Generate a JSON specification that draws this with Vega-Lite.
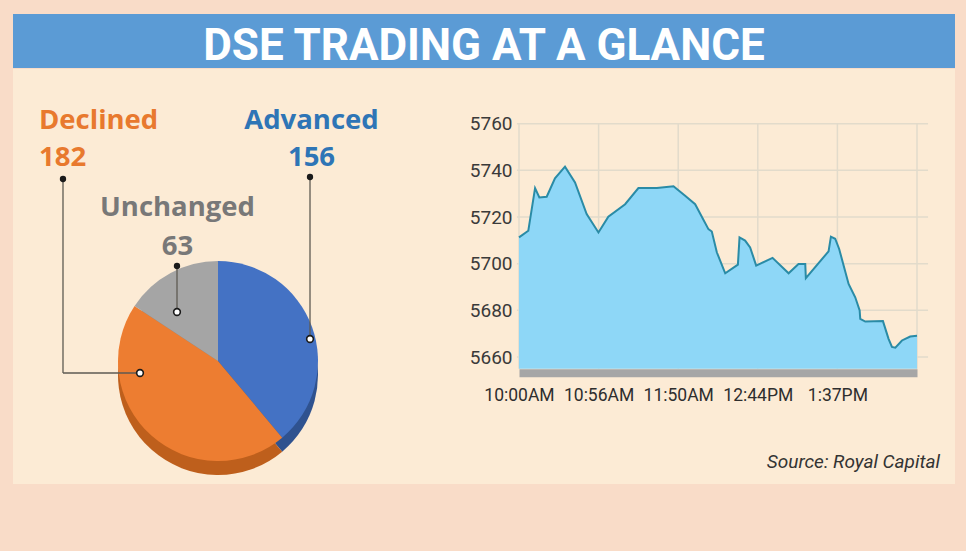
{
  "$schema": "https://vega.github.io/schema/vega-lite/v6.json",
  "background": "#F9DCC8",
  "padding": {"left": 13, "top": 14, "right": 11, "bottom": 69},
  "config": {"view": {"stroke": null}, "concat": {"spacing": 0}},
  "datasets": {
    "index": [
      {"t": 0, "v": 5711.3}, {"t": 6.3, "v": 5714.1}, {"t": 10.9, "v": 5732.4}, {"t": 13.8, "v": 5728.4},
      {"t": 18.8, "v": 5728.7}, {"t": 24.4, "v": 5736.6}, {"t": 31.2, "v": 5741.6}, {"t": 38.0, "v": 5734.8},
      {"t": 45.9, "v": 5721.3}, {"t": 53.9, "v": 5713.4}, {"t": 60.6, "v": 5720.1}, {"t": 72.0, "v": 5725.5},
      {"t": 81.0, "v": 5732.4}, {"t": 93.5, "v": 5732.4}, {"t": 104.8, "v": 5733.2}, {"t": 112.7, "v": 5729.1},
      {"t": 119.5, "v": 5725.5}, {"t": 128.5, "v": 5714.8}, {"t": 130.8, "v": 5713.8}, {"t": 134.2, "v": 5704.9},
      {"t": 139.9, "v": 5695.9}, {"t": 148.5, "v": 5699.6}, {"t": 149.6, "v": 5711.3}, {"t": 153.4, "v": 5709.9},
      {"t": 156.8, "v": 5707.0}, {"t": 160.9, "v": 5699.2}, {"t": 172.0, "v": 5702.5}, {"t": 182.9, "v": 5695.9},
      {"t": 189.6, "v": 5699.9}, {"t": 194.2, "v": 5699.9}, {"t": 194.6, "v": 5693.8}, {"t": 210.0, "v": 5705.3},
      {"t": 211.6, "v": 5711.6}, {"t": 214.5, "v": 5710.7}, {"t": 217.2, "v": 5706.3}, {"t": 223.6, "v": 5691.3},
      {"t": 228.1, "v": 5685.6}, {"t": 231.1, "v": 5680.0}, {"t": 231.5, "v": 5676.4}, {"t": 234.9, "v": 5675.2},
      {"t": 246.9, "v": 5675.4}, {"t": 250.7, "v": 5667.8}, {"t": 253.0, "v": 5664.3}, {"t": 255.3, "v": 5664.0},
      {"t": 259.8, "v": 5667.1}, {"t": 265.4, "v": 5668.8}, {"t": 270, "v": 5669.1}
    ],
    "breadth": [
      {"status": "Advanced", "count": 156},
      {"status": "Declined", "count": 182},
      {"status": "Unchanged", "count": 63}
    ],
    "ygrid": [{"v": 5660}, {"v": 5680}, {"v": 5700}, {"v": 5720}, {"v": 5740}, {"v": 5760}],
    "xgrid": [{"t": 0}, {"t": 54}, {"t": 108}, {"t": 162}, {"t": 216}, {"t": 270}],
    "meta": [{"title": "DSE TRADING AT A GLANCE", "source": "Source: Royal Capital"}]
  },
  "vconcat": [
    {
      "width": 942,
      "height": 54,
      "view": {"fill": "#5B9BD5", "stroke": null},
      "data": {"name": "meta"},
      "mark": {"type": "text", "font": "Roboto", "fontWeight": "bold", "fontSize": 44, "color": "#FFFFFF", "align": "center", "baseline": "middle", "dy": 6},
      "encoding": {"text": {"field": "title"}}
    },
    {
      "width": 942,
      "height": 415,
      "view": {"fill": "#FCEBD5", "stroke": null},
      "layer": [
        {
          "data": {"name": "ygrid"},
          "mark": {"type": "rule", "color": "#E2DBCB", "strokeWidth": 1.5},
          "encoding": {
            "y": {
              "field": "v", "type": "quantitative",
              "scale": {"domain": [5655, 5760], "range": [299.7, 54.7], "nice": false, "zero": false},
              "axis": {
                "orient": "left", "offset": -506, "values": [5660, 5680, 5700, 5720, 5740, 5760], "format": "d",
                "domain": false, "ticks": false, "tickSize": 0, "grid": false, "labelPadding": 7,
                "labelFont": "Roboto", "labelFontSize": 19, "labelColor": "#3A3A3A",
                "title": null, "labelFlush": false, "labelOverlap": false, "zindex": 1
              }
            },
            "x": {"datum": -1.4, "type": "quantitative"},
            "x2": {"datum": 277.5}
          }
        },
        {
          "data": {"name": "xgrid"},
          "mark": {"type": "rule", "color": "#E2DBCB", "strokeWidth": 1.5},
          "encoding": {
            "x": {
              "field": "t", "type": "quantitative",
              "scale": {"domain": [0, 270], "range": [506, 904], "nice": false, "zero": false},
              "axis": {
                "orient": "bottom", "offset": -111.3, "values": [0, 54, 108, 162, 216, 270],
                "labelExpr": "datum.value == 0 ? '10:00AM' : datum.value == 54 ? '10:56AM' : datum.value == 108 ? '11:50AM' : datum.value == 162 ? '12:44PM' : datum.value == 216 ? '1:37PM' : ''",
                "domain": true, "domainColor": "#A6A6A6", "domainWidth": 8, "domainCap": "butt",
                "ticks": false, "tickSize": 0, "grid": false, "labelPadding": 14,
                "labelFont": "Roboto", "labelFontSize": 17.5, "labelColor": "#2E2E2E",
                "title": null, "labelFlush": false, "labelOverlap": false, "zindex": 1
              }
            },
            "y": {"datum": 5655, "type": "quantitative"},
            "y2": {"datum": 5760}
          }
        },
        {
          "data": {"name": "index"},
          "mark": {"type": "area", "color": "#8ED7F7", "opacity": 1, "line": {"color": "#2A8BA6", "strokeWidth": 2}},
          "encoding": {
            "x": {"field": "t", "type": "quantitative"},
            "y": {"field": "v", "type": "quantitative"},
            "y2": {"datum": 5655}
          }
        },
        {
          "data": {"name": "breadth"},
          "mark": {"type": "arc", "outerRadius": 100},
          "encoding": {
            "theta": {"field": "count", "type": "quantitative"},
            "fill": {"field": "status", "type": "nominal", "scale": {"domain": ["Advanced", "Declined", "Unchanged"], "range": ["#2F528F", "#BE5F1C", "#7F7F7F"]}, "legend": null},
            "x": {"datum": -204.2, "type": "quantitative"},
            "y": {"datum": 5652.3, "type": "quantitative"}
          }
        },
        {
          "data": {"name": "breadth"},
          "mark": {"type": "arc", "outerRadius": 100},
          "encoding": {
            "theta": {"field": "count", "type": "quantitative"},
            "color": {"field": "status", "type": "nominal", "scale": {"domain": ["Advanced", "Declined", "Unchanged"], "range": ["#4472C4", "#ED7D31", "#A5A5A5"]}, "legend": null},
            "x": {"datum": -204.2, "type": "quantitative"},
            "y": {"datum": 5658.3, "type": "quantitative"}
          }
        },
        {
          "data": {"name": "breadth"},
          "transform": [{"filter": "datum.status === 'Declined'"}],
          "mark": {"type": "text", "font": "Open Sans", "fontWeight": "bold", "fontSize": 27.5, "color": "#E8792E", "align": "left", "baseline": "middle"},
          "encoding": {"text": {"field": "status"}, "x": {"datum": -325.63, "type": "quantitative"}, "y": {"datum": 5761.29, "type": "quantitative"}}
        },
        {
          "data": {"name": "breadth"},
          "transform": [{"filter": "datum.status === 'Declined'"}],
          "mark": {"type": "text", "font": "Open Sans", "fontWeight": "bold", "fontSize": 27.5, "color": "#E8792E", "align": "left", "baseline": "middle"},
          "encoding": {"text": {"field": "count", "type": "quantitative"}, "x": {"datum": -325.63, "type": "quantitative"}, "y": {"datum": 5745.3, "type": "quantitative"}}
        },
        {
          "data": {"name": "breadth"},
          "transform": [{"filter": "datum.status === 'Advanced'"}],
          "mark": {"type": "text", "font": "Open Sans", "fontWeight": "bold", "fontSize": 27.5, "color": "#2E75B6", "align": "center", "baseline": "middle"},
          "encoding": {"text": {"field": "status"}, "x": {"datum": -140.77, "type": "quantitative"}, "y": {"datum": 5761.29, "type": "quantitative"}}
        },
        {
          "data": {"name": "breadth"},
          "transform": [{"filter": "datum.status === 'Advanced'"}],
          "mark": {"type": "text", "font": "Open Sans", "fontWeight": "bold", "fontSize": 27.5, "color": "#2E75B6", "align": "center", "baseline": "middle"},
          "encoding": {"text": {"field": "count", "type": "quantitative"}, "x": {"datum": -140.77, "type": "quantitative"}, "y": {"datum": 5745.3, "type": "quantitative"}}
        },
        {
          "data": {"name": "breadth"},
          "transform": [{"filter": "datum.status === 'Unchanged'"}],
          "mark": {"type": "text", "font": "Open Sans", "fontWeight": "bold", "fontSize": 27.5, "color": "#787878", "align": "center", "baseline": "middle"},
          "encoding": {"text": {"field": "status"}, "x": {"datum": -231.67, "type": "quantitative"}, "y": {"datum": 5723.66, "type": "quantitative"}}
        },
        {
          "data": {"name": "breadth"},
          "transform": [{"filter": "datum.status === 'Unchanged'"}],
          "mark": {"type": "text", "font": "Open Sans", "fontWeight": "bold", "fontSize": 27.5, "color": "#787878", "align": "center", "baseline": "middle"},
          "encoding": {"text": {"field": "count", "type": "quantitative"}, "x": {"datum": -231.67, "type": "quantitative"}, "y": {"datum": 5707.16, "type": "quantitative"}}
        },
        {
          "data": {"name": "meta"},
          "mark": {"type": "rule", "color": "#5E5A52", "strokeWidth": 1.3},
          "encoding": {"x": {"datum": -309.35, "type": "quantitative"}, "y": {"datum": 5736.3, "type": "quantitative"}, "y2": {"datum": 5653.16}}
        },
        {
          "data": {"name": "meta"},
          "mark": {"type": "rule", "color": "#5E5A52", "strokeWidth": 1.3},
          "encoding": {"x": {"datum": -309.35, "type": "quantitative"}, "x2": {"datum": -257.11}, "y": {"datum": 5653.16, "type": "quantitative"}}
        },
        {
          "data": {"name": "meta"},
          "mark": {"type": "rule", "color": "#5E5A52", "strokeWidth": 1.3},
          "encoding": {"x": {"datum": -141.78, "type": "quantitative"}, "y": {"datum": 5737.16, "type": "quantitative"}, "y2": {"datum": 5667.73}}
        },
        {
          "data": {"name": "meta"},
          "mark": {"type": "rule", "color": "#5E5A52", "strokeWidth": 1.3},
          "encoding": {"x": {"datum": -232.01, "type": "quantitative"}, "y": {"datum": 5699.01, "type": "quantitative"}, "y2": {"datum": 5679.3}}
        },
        {
          "data": {"name": "meta"},
          "mark": {"type": "point", "filled": true, "color": "#1A1A1A", "size": 40, "opacity": 1},
          "encoding": {"x": {"datum": -309.35, "type": "quantitative"}, "y": {"datum": 5736.3, "type": "quantitative"}}
        },
        {
          "data": {"name": "meta"},
          "mark": {"type": "point", "filled": true, "color": "#1A1A1A", "size": 40, "opacity": 1},
          "encoding": {"x": {"datum": -141.78, "type": "quantitative"}, "y": {"datum": 5737.16, "type": "quantitative"}}
        },
        {
          "data": {"name": "meta"},
          "mark": {"type": "point", "filled": true, "color": "#1A1A1A", "size": 40, "opacity": 1},
          "encoding": {"x": {"datum": -232.01, "type": "quantitative"}, "y": {"datum": 5699.01, "type": "quantitative"}}
        },
        {
          "data": {"name": "meta"},
          "mark": {"type": "point", "filled": false, "fill": "#FFFFFF", "stroke": "#1A1A1A", "strokeWidth": 1.6, "size": 45, "opacity": 1, "fillOpacity": 1},
          "encoding": {"x": {"datum": -257.11, "type": "quantitative"}, "y": {"datum": 5653.16, "type": "quantitative"}}
        },
        {
          "data": {"name": "meta"},
          "mark": {"type": "point", "filled": false, "fill": "#FFFFFF", "stroke": "#1A1A1A", "strokeWidth": 1.6, "size": 45, "opacity": 1, "fillOpacity": 1},
          "encoding": {"x": {"datum": -141.78, "type": "quantitative"}, "y": {"datum": 5667.73, "type": "quantitative"}}
        },
        {
          "data": {"name": "meta"},
          "mark": {"type": "point", "filled": false, "fill": "#FFFFFF", "stroke": "#1A1A1A", "strokeWidth": 1.6, "size": 45, "opacity": 1, "fillOpacity": 1},
          "encoding": {"x": {"datum": -232.01, "type": "quantitative"}, "y": {"datum": 5679.3, "type": "quantitative"}}
        },
        {
          "data": {"name": "meta"},
          "mark": {"type": "text", "font": "Roboto", "fontStyle": "italic", "fontSize": 19, "color": "#333333", "align": "right", "baseline": "middle"},
          "encoding": {"text": {"field": "source"}, "x": {"datum": 285.6, "type": "quantitative"}, "y": {"datum": 5615.0, "type": "quantitative"}}
        }
      ]
    }
  ]
}
